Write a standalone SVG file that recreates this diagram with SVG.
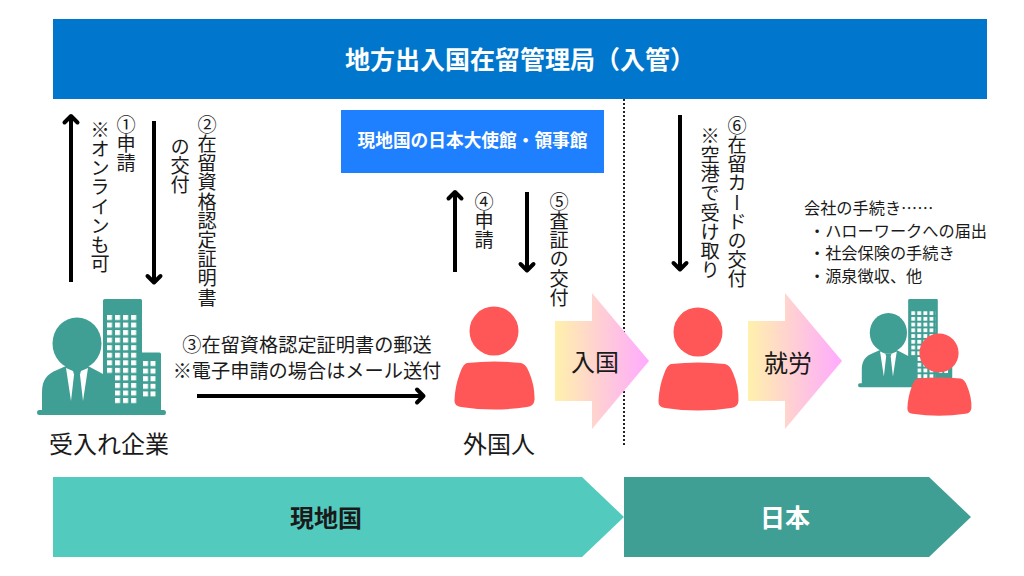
<svg xmlns="http://www.w3.org/2000/svg" xmlns:xlink="http://www.w3.org/1999/xlink" width="1024" height="576" viewBox="0 0 1024 576">
<style>
text{font-family:"Noto Sans CJK JP","Noto Sans",sans-serif;fill:#1a1a1a}
.v{writing-mode:vertical-rl;font-size:19.200px}
.h{font-size:19.200px}
.s{font-size:16.200px}
.b{font-weight:700;fill:#fff}
.c{text-anchor:middle}
.conn{stroke:#000;stroke-width:4;fill:none}
.head{stroke:#000;stroke-width:4;fill:none;stroke-linecap:round;stroke-linejoin:round}
.teal{fill:#409f94}
.red{fill:#ff5757}
.win{fill:#fff}
</style>
<defs>
<linearGradient id="g"><stop offset="0" stop-color="#fff1ac"/><stop offset="1" stop-color="#ffaaff"/></linearGradient>
<pattern id="w1" x="107" y="315" width="8.05" height="7.55" patternUnits="userSpaceOnUse"><rect width="5" height="5" class="win"/></pattern>
<pattern id="w2" x="143" y="361" width="7.5" height="7.6" patternUnits="userSpaceOnUse"><rect width="5" height="5" class="win"/></pattern>
<g id="company">
<path class="teal" d="M105 299H140.500Q142 299 142 300.500V352.500H159.500Q161 352.500 161 354V410H164Q166 410 166 412.500Q166 415 164 415H39.500Q37 415 37 412.500Q37 410 39.500 410H42V392C42 380 47 374 57 370L66 366H88L103 374V300.500Q103 299 105 299Z"/>
<rect x="107" y="315" width="32" height="59" fill="url(#w1)"/>
<rect x="115" y="374" width="24" height="41" fill="url(#w1)" clip-path="url(#cw)"/>
<rect x="143" y="361" width="13" height="36" fill="url(#w2)"/>
<ellipse class="teal" cx="77" cy="343.500" rx="24.500" ry="26"/>
<path class="win" d="M66 368L73 371L77 371L81 371L88 368L83 401L80 375H74L71 401Z"/>
<path class="teal" d="M73 371H81L79.500 376L81 399L77 404L73 399L74.500 376Z"/>
</g>
<clipPath id="cw"><rect x="115" y="374" width="24" height="30"/></clipPath>
<g id="person">
<circle class="red" cx="494" cy="331" r="24.500"/>
<path class="red" d="M467 363Q494 360 521 363Q526 364 529 372Q535 386 534.500 400Q534 406 527 407Q494 412 461 407Q454 406 454.500 400Q455 386 460 373Q463 364 467 363Z"/>
</g>
</defs>

<g id="top-bar"><rect x="53" y="19" width="934" height="80" fill="#0076cc"/><text class="b c" x="520" y="69" font-size="25">地方出入国在留管理局（入管）</text></g>
<g id="embassy"><rect x="341" y="110" width="263" height="63" fill="#1f80ff"/><text class="b c" x="472.500" y="147" font-size="17.700">現地国の日本大使館・領事館</text></g>

<g id="connectors">
<line x1="624" y1="99" x2="624" y2="446" stroke="#222" stroke-width="2" stroke-dasharray="2 2"/>
<line class="conn" x1="71" y1="282" x2="71" y2="118"/><path class="head" d="M64.500 122.500L71 116L77.500 122.500"/>
<line class="conn" x1="154" y1="121" x2="154" y2="282"/><path class="head" d="M147.500 276L154 282.500L160.500 276"/>
<line class="conn" x1="455" y1="272" x2="455" y2="194"/><path class="head" d="M448.500 198.500L455 192L461.500 198.500"/>
<line class="conn" x1="527" y1="192" x2="527" y2="270"/><path class="head" d="M520.500 264L527 270.500L533.500 264"/>
<line class="conn" x1="680" y1="115" x2="680" y2="269"/><path class="head" d="M673.500 263L680 269.500L686.500 263"/>
<line class="conn" x1="197" y1="396" x2="423" y2="396"/><path class="head" d="M417 389.500L423.500 396L417 402.500"/>
</g>

<g id="company-node"><use href="#company"/><text class="c" x="109" y="453" font-size="24">受入れ企業</text></g>
<g id="foreigner"><use href="#person"/><text class="c" x="499" y="453" font-size="24">外国人</text></g>
<g id="worker"><use href="#person" transform="translate(204 1)"/></g>
<g id="company-worker">
<use href="#company" transform="translate(858 299) scale(.76) translate(-37 -299)"/>
<use href="#person" transform="translate(939 353) scale(.8) translate(-494 -331)"/>
</g>

<g id="label-1"><text class="v" x="126" y="115">①申請</text><text class="v" x="100" y="120">※オンラインも可</text></g>
<g id="label-2"><text class="v" x="207" y="115">②在留資格認定証明書</text><text class="v" x="180" y="137">の交付</text></g>
<g id="label-3"><text class="h c" x="307" y="352">③在留資格認定証明書の郵送</text><text class="h c" x="307" y="378">※電子申請の場合はメール送付</text></g>
<g id="label-4"><text class="v" x="484" y="192">④申請</text></g>
<g id="label-5"><text class="v" x="559" y="192">⑤査証の交付</text></g>
<g id="label-6"><text class="v" x="737" y="116">⑥在留カードの交付</text><text class="v" x="710" y="126">※空港で受け取り</text></g>
<g id="procedures">
<text class="s" x="804" y="214">会社の手続き……</text>
<text class="s" x="809" y="237">・ハローワークへの届出</text>
<text class="s" x="809" y="259">・社会保険の手続き</text>
<text class="s" x="809" y="282">・源泉徴収、他</text>
</g>

<g id="entry"><path fill="url(#g)" d="M555 321H592V293L649 361L592 429V401H555Z"/><text class="c" x="595" y="371" font-size="24">入国</text></g>
<g id="work"><path fill="url(#g)" d="M748 321H785V293L842 361L785 429V401H748Z"/><text class="c" x="788" y="372" font-size="24">就労</text></g>

<g id="band-local"><path fill="#52cbbe" d="M53 477H582L624 517L582 557H53Z"/><text class="c" x="326" y="527" font-size="24" font-weight="700">現地国</text></g>
<g id="band-japan"><path class="teal" d="M624 477H929L971 517L929 557H624Z"/><text class="b c" x="785" y="527" font-size="25">日本</text></g>
</svg>
